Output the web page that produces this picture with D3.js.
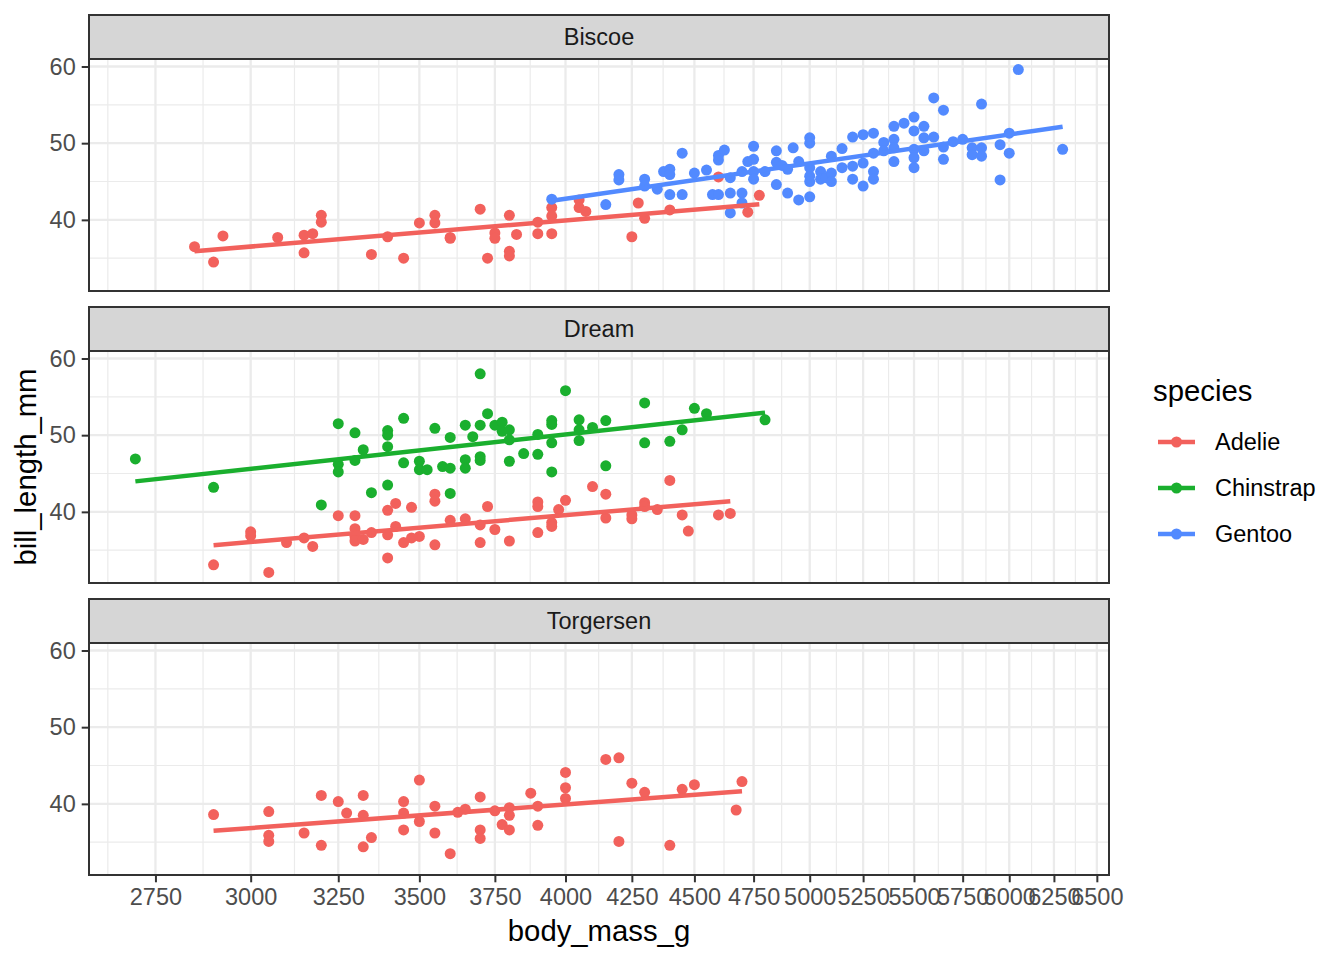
<!DOCTYPE html>
<html>
<head>
<meta charset="utf-8">
<script src="https://cdn.jsdelivr.net/npm/d3@7"></script>
<style>
	body { margin: 0; background: #fff; }
	svg text { font-family: "Liberation Sans", Arial, Helvetica, sans-serif; }
</style>
</head>
<body>
<div id="chart"></div>
<script>

// DATA: each point is [body_mass_g, bill_length_mm]
const islands = ["Biscoe", "Dream", "Torgersen"];
const species = ["Adelie", "Chinstrap", "Gentoo"];
const speciesColors = ["#F2615C", "#1AAF2E", "#528AFF"];

const xTicks = [2750, 3000, 3250, 3500, 3750, 4000, 4250, 4500, 4750, 5000, 5250, 5500, 5750, 6000, 6250, 6500];
const yTicks = [40, 50, 60];

const biscoeAdelie = [
	[2850, 36.5], [2900, 34.5], [2925, 37.9], [3075, 37.7], [3150, 38.0], [3150, 35.7],
	[3175, 38.2], [3200, 40.6], [3200, 39.7], [3350, 35.5], [3400, 37.8], [3450, 35.0],
	[3500, 39.6], [3550, 40.6], [3550, 39.6], [3600, 37.7], [3600, 37.6], [3700, 41.4],
	[3725, 35.0], [3750, 38.3], [3750, 37.6], [3800, 40.6], [3800, 35.9], [3800, 35.3],
	[3825, 38.1], [3900, 39.7], [3900, 38.2], [3950, 41.6], [3950, 40.5], [3950, 38.2],
	[4050, 42.6], [4050, 41.6], [4075, 41.1], [4275, 42.2], [4250, 37.8], [4300, 40.2],
	[4400, 41.3], [4600, 45.6], [4725, 41.0], [4775, 43.2]
];

const biscoeGentoo = [
	[3950, 42.7], [4150, 42.0], [4200, 45.9], [4200, 45.2], [4300, 45.3], [4300, 44.4],
	[4350, 44.0], [4375, 46.3], [4400, 46.6], [4400, 45.9], [4400, 43.3], [4450, 43.3],
	[4450, 48.7], [4500, 46.1], [4550, 46.5], [4575, 43.3], [4600, 43.3], [4600, 47.8],
	[4600, 48.4], [4625, 49.1], [4650, 45.5], [4650, 43.5], [4650, 40.9], [4700, 46.3],
	[4700, 43.5], [4700, 42.2], [4725, 47.6], [4750, 47.9], [4750, 49.6], [4750, 46.3],
	[4750, 45.3], [4800, 46.3], [4850, 49.0], [4850, 47.5], [4850, 44.6], [4875, 47.1],
	[4900, 46.6], [4900, 43.5], [4925, 49.4], [4950, 47.6], [4950, 42.6], [5000, 50.7],
	[5000, 50.0], [5000, 46.8], [5000, 45.7], [5000, 45.0], [5000, 43.0], [5050, 46.3],
	[5050, 45.3], [5075, 45.5], [5100, 48.3], [5100, 46.1], [5100, 45.0], [5150, 49.3],
	[5150, 46.8], [5200, 50.8], [5200, 47.0], [5200, 45.3], [5250, 51.1], [5250, 47.4],
	[5250, 44.4], [5300, 51.3], [5300, 48.7], [5300, 46.3], [5300, 45.3], [5350, 50.1],
	[5350, 49.0], [5400, 52.2], [5400, 50.5], [5400, 49.4], [5400, 47.6], [5450, 52.6],
	[5500, 53.4], [5500, 51.6], [5500, 49.2], [5500, 48.1], [5500, 46.8], [5550, 52.2],
	[5550, 50.7], [5550, 49.0], [5600, 55.9], [5600, 50.8], [5650, 54.3], [5650, 49.5],
	[5650, 47.9], [5700, 50.2], [5750, 50.5], [5800, 49.4], [5800, 48.5], [5850, 55.1],
	[5850, 49.4], [5850, 48.3], [5950, 49.8], [5950, 45.2], [6000, 51.3], [6000, 48.7],
	[6050, 59.6], [6300, 49.2]
];

const dreamAdelie = [
	[2900, 33.1], [3050, 32.1], [3000, 37.4], [3000, 36.9], [3100, 36.0], [3150, 36.6],
	[3175, 35.5], [3250, 39.5], [3300, 39.5], [3300, 37.8], [3300, 36.8], [3300, 36.2],
	[3325, 36.4], [3350, 37.3], [3400, 40.2], [3400, 37.0], [3400, 34.0], [3425, 41.1],
	[3425, 38.1], [3475, 40.6], [3450, 36.0], [3475, 36.6], [3500, 36.8], [3550, 42.3],
	[3550, 41.4], [3550, 35.7], [3600, 38.9], [3650, 39.1], [3700, 38.3], [3700, 36.0],
	[3725, 40.7], [3750, 37.7], [3800, 36.2], [3900, 41.3], [3900, 40.7], [3900, 37.3],
	[3950, 38.6], [3950, 38.1], [3975, 40.3], [4000, 41.5], [4100, 43.3], [4150, 42.3],
	[4150, 39.2], [4250, 39.6], [4250, 39.1], [4300, 41.2], [4300, 40.7], [4350, 40.3],
	[4400, 44.1], [4450, 39.6], [4475, 37.5], [4600, 39.6], [4650, 39.8]
];

const dreamChinstrap = [
	[2700, 46.9], [2900, 43.2], [3200, 40.9], [3250, 51.5], [3250, 46.2], [3250, 45.2],
	[3300, 50.3], [3300, 46.7], [3325, 48.1], [3350, 42.5], [3400, 50.6], [3400, 50.0],
	[3400, 48.5], [3400, 43.5], [3450, 52.2], [3450, 46.4], [3500, 46.6], [3500, 45.5],
	[3525, 45.5], [3550, 50.9], [3575, 45.9], [3600, 49.7], [3600, 45.7], [3600, 42.4],
	[3650, 51.3], [3650, 46.8], [3650, 45.7], [3675, 49.8], [3700, 58.0], [3700, 51.3],
	[3700, 47.2], [3700, 46.7], [3725, 52.8], [3750, 51.3], [3775, 51.7], [3775, 50.5],
	[3800, 50.7], [3800, 49.4], [3800, 46.6], [3850, 47.6], [3900, 50.1], [3900, 47.5],
	[3950, 51.9], [3950, 51.4], [3950, 49.0], [3950, 45.2], [4000, 55.8], [4050, 52.0],
	[4050, 50.7], [4050, 49.3], [4100, 51.0], [4150, 51.9], [4150, 46.0], [4300, 54.2],
	[4300, 49.0], [4400, 49.2], [4450, 50.7], [4500, 53.5], [4550, 52.8], [4800, 52.0]
];

const torgersenAdelie = [
	[2900, 38.6], [3050, 39.0], [3050, 35.9], [3050, 35.1], [3150, 36.2], [3200, 41.1],
	[3200, 34.6], [3250, 40.3], [3275, 38.8], [3325, 41.1], [3325, 38.5], [3325, 34.4],
	[3350, 35.6], [3450, 40.3], [3450, 38.8], [3450, 36.6], [3500, 43.1], [3500, 37.7],
	[3550, 39.7], [3550, 36.2], [3600, 33.5], [3625, 38.9], [3650, 39.3], [3700, 40.9],
	[3700, 36.6], [3700, 35.5], [3750, 39.1], [3775, 37.3], [3800, 39.5], [3800, 38.5],
	[3800, 36.6], [3875, 41.4], [3900, 39.7], [3900, 37.2], [4000, 44.1], [4000, 42.1],
	[4000, 40.7], [4150, 45.8], [4200, 46.0], [4200, 35.1], [4250, 42.7], [4300, 41.5],
	[4400, 34.6], [4450, 41.9], [4500, 42.5], [4675, 39.2], [4700, 42.9]
];

const groups = [
	{ island: "Biscoe", species: "Adelie", points: biscoeAdelie },
	{ island: "Biscoe", species: "Gentoo", points: biscoeGentoo },
	{ island: "Dream", species: "Adelie", points: dreamAdelie },
	{ island: "Dream", species: "Chinstrap", points: dreamChinstrap },
	{ island: "Torgersen", species: "Adelie", points: torgersenAdelie }
];


/** linear model bill ~ log(mass), as geom_smooth(method = "lm") on a log x scale */
function fitLogLm(pts) {
	const xs = pts.map(p => Math.log(p[0]));
	const ys = pts.map(p => p[1]);
	const mx = d3.mean(xs), my = d3.mean(ys);
	const slope = d3.sum(xs, (v, i) => (v - mx) * (ys[i] - my)) / d3.sum(xs, v => (v - mx) ** 2);
	return m => my + slope * (Math.log(m) - mx);
}


/** DRAW FACETS */
function createFacetChart() {
	const width = 1344, height = 960;
	const left = 89, right = 1109;
	const stripTop = 15, stripH = 44, panelH = 232, facetStep = 292;
	const fontSmall = 23.5, fontBig = 29.3;
	const pointR = 5.5;

	const svg = d3.select("#chart")
		.append("svg")
		.attr("width", width)
		.attr("height", height);

	// SCALES: log x and linear y, both expanded by 5%
	const all = groups.flatMap(g => g.points);
	const massExt = d3.extent(all, d => d[0]);
	const billExt = d3.extent(all, d => d[1]);
	const lx = Math.log(massExt[1] / massExt[0]) * 0.05;
	const x = d3.scaleLog()
		.domain([massExt[0] * Math.exp(-lx), massExt[1] * Math.exp(lx)])
		.range([left, right]);
	const by = (billExt[1] - billExt[0]) * 0.05;
	const y = d3.scaleLinear()
		.domain([billExt[0] - by, billExt[1] + by])
		.range([panelH, 0]);
	const color = d3.scaleOrdinal().domain(species).range(speciesColors);

	// minor breaks halfway between majors, in transformed space
	const logT = xTicks.map(Math.log);
	const xMinor = [logT[0] - (logT[1] - logT[0]) / 2];
	for (let i = 1; i < logT.length; i++) xMinor.push((logT[i] + logT[i - 1]) / 2);
	xMinor.push(logT[logT.length - 1] + (logT[logT.length - 1] - logT[logT.length - 2]) / 2);
	const xMinorVals = xMinor.map(Math.exp).filter(v => v >= x.domain()[0] && v <= x.domain()[1]);
	const yMinorVals = [30, 35, 45, 55, 65].filter(v => v >= y.domain()[0] && v <= y.domain()[1]);

	islands.forEach((island, i) => {
		const g = svg.append("g")
			.attr("transform", `translate(0,${stripTop + i * facetStep + stripH})`);

		g.append("rect")
			.attr("x", left).attr("y", 0)
			.attr("width", right - left).attr("height", panelH)
			.attr("fill", "#fff");

		// grid
		g.append("g").selectAll("line").data(xMinorVals).enter().append("line")
			.attr("x1", d => x(d)).attr("x2", d => x(d))
			.attr("y1", 0).attr("y2", panelH)
			.attr("stroke", "#EBEBEB").attr("stroke-width", 1.2);
		g.append("g").selectAll("line").data(yMinorVals).enter().append("line")
			.attr("x1", left).attr("x2", right)
			.attr("y1", d => y(d)).attr("y2", d => y(d))
			.attr("stroke", "#EBEBEB").attr("stroke-width", 1.2);
		g.append("g").selectAll("line").data(xTicks).enter().append("line")
			.attr("x1", d => x(d)).attr("x2", d => x(d))
			.attr("y1", 0).attr("y2", panelH)
			.attr("stroke", "#EBEBEB").attr("stroke-width", 2.3);
		g.append("g").selectAll("line").data(yTicks).enter().append("line")
			.attr("x1", left).attr("x2", right)
			.attr("y1", d => y(d)).attr("y2", d => y(d))
			.attr("stroke", "#EBEBEB").attr("stroke-width", 2.3);

		const here = groups.filter(gr => gr.island === island);

		// points
		here.forEach(gr => {
			g.append("g").selectAll("circle").data(gr.points).enter().append("circle")
				.attr("cx", d => x(d[0]))
				.attr("cy", d => y(d[1]))
				.attr("r", pointR)
				.attr("fill", color(gr.species));
		});

		// smooth lines
		here.forEach(gr => {
			const f = fitLogLm(gr.points);
			const ext = d3.extent(gr.points, d => d[0]);
			g.append("path")
				.datum(ext)
				.attr("d", d3.line().x(d => x(d)).y(d => y(f(d))))
				.attr("fill", "none")
				.attr("stroke", color(gr.species))
				.attr("stroke-width", 4.5);
		});

		// border
		g.append("rect")
			.attr("x", left).attr("y", 0)
			.attr("width", right - left).attr("height", panelH)
			.attr("fill", "none")
			.attr("stroke", "#333").attr("stroke-width", 2);

		// strip
		g.append("rect")
			.attr("x", left).attr("y", -stripH)
			.attr("width", right - left).attr("height", stripH)
			.attr("fill", "#D6D6D6")
			.attr("stroke", "#333").attr("stroke-width", 2);
		g.append("text")
			.attr("x", (left + right) / 2)
			.attr("y", -stripH / 2)
			.attr("dy", "0.36em")
			.attr("text-anchor", "middle")
			.attr("font-size", fontSmall)
			.attr("fill", "#1A1A1A")
			.text(island);

		// y axis
		const ya = g.append("g")
			.attr("transform", `translate(${left},0)`)
			.call(d3.axisLeft(y).tickValues(yTicks).tickSize(7.3).tickPadding(6));
		ya.select(".domain").remove();
		ya.selectAll(".tick line").attr("stroke", "#333").attr("stroke-width", 2);
		ya.selectAll(".tick text")
			.attr("font-size", fontSmall)
			.attr("font-family", null)
			.attr("fill", "#4D4D4D");

		// x axis only under the last panel
		if (i === islands.length - 1) {
			const xa = g.append("g")
				.attr("transform", `translate(0,${panelH})`)
				.call(d3.axisBottom(x).tickValues(xTicks).tickFormat(d3.format("d")).tickSize(7.3).tickPadding(6));
			xa.select(".domain").remove();
			xa.selectAll(".tick line").attr("stroke", "#333").attr("stroke-width", 2);
			xa.selectAll(".tick text")
				.attr("font-size", fontSmall)
				.attr("font-family", null)
				.attr("fill", "#4D4D4D");
		}
	});

	// AXIS TITLES
	svg.append("text")
		.attr("x", (left + right) / 2)
		.attr("y", 941)
		.attr("text-anchor", "middle")
		.attr("font-size", fontBig)
		.attr("fill", "#000")
		.text("body_mass_g");
	svg.append("text")
		.attr("transform", "translate(36,467) rotate(-90)")
		.attr("text-anchor", "middle")
		.attr("font-size", fontBig)
		.attr("fill", "#000")
		.text("bill_length_mm");

	// LEGEND
	const legend = svg.append("g");
	legend.append("text")
		.attr("x", 1153).attr("y", 401)
		.attr("font-size", fontBig)
		.attr("fill", "#000")
		.text("species");
	species.forEach((s, k) => {
		const ky = 442 + k * 46;
		legend.append("line")
			.attr("x1", 1158).attr("x2", 1195)
			.attr("y1", ky).attr("y2", ky)
			.attr("stroke", color(s)).attr("stroke-width", 4.5);
		legend.append("circle")
			.attr("cx", 1176.5).attr("cy", ky).attr("r", pointR)
			.attr("fill", color(s));
		legend.append("text")
			.attr("x", 1215).attr("y", ky)
			.attr("dy", "0.36em")
			.attr("font-size", fontSmall)
			.attr("fill", "#000")
			.text(s);
	});
}

document.addEventListener("DOMContentLoaded", createFacetChart);
</script>
</body>
</html>
